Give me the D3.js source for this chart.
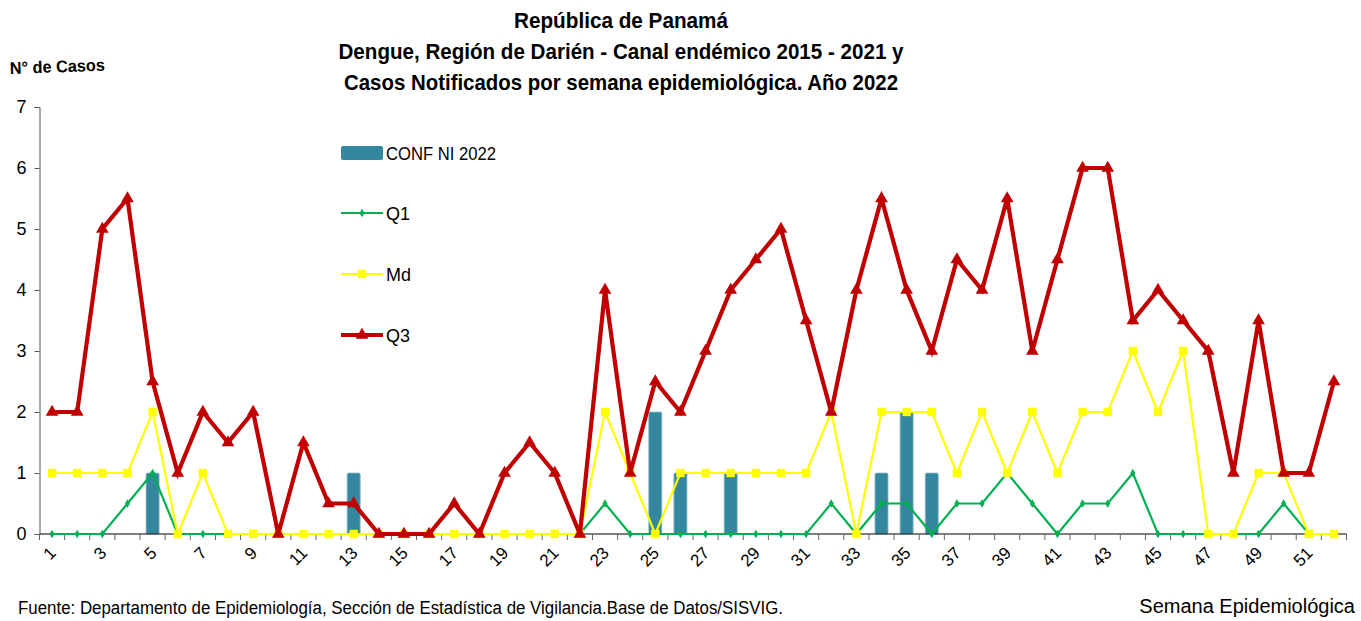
<!DOCTYPE html>
<html>
<head>
<meta charset="utf-8">
<script src="https://cdn.jsdelivr.net/npm/d3@7"></script>
<style>
  body { margin: 0; background: #fff; }
  text { font-family: "Liberation Sans", Arial, sans-serif; fill: #000; }
</style>
</head>
<body>
<svg id="svg" width="1361" height="621"></svg>
<script>
// Semanas epidemiológicas 1..52
let weeks = d3.range(1, 53);

// Casos confirmados 2022 (barras)
let conf = [0,0,0,0,1,0,0,0,0,0, 0,0,1,0,0,0,0,0,0,0, 0,0,0,0,2,1,0,1,0,0, 0,0,0,1,2,1,0,0,0,0, 0,0,0,0,0,0,0,0,0,0, 0,0];
// Canal endémico
let q1 = [0,0,0,0.5,1,0,0,0,0,0, 0,0,0,0,0,0,0,0,0,0, 0,0,0.5,0,0,0,0,0,0,0, 0,0.5,0,0.5,0.5,0,0.5,0.5,1,0.5, 0,0.5,0.5,1,0,0,0,0,0,0.5, 0,0];
let md = [1,1,1,1,2,0,1,0,0,0, 0,0,0,0,0,0,0,0,0,0, 0,0,2,1,0,1,1,1,1,1, 1,2,0,2,2,2,1,2,1,2, 1,2,2,3,2,3,0,0,1,1, 0,0];
let q3 = [2,2,5,5.5,2.5,1,2,1.5,2,0, 1.5,0.5,0.5,0,0,0,0.5,0,1,1.5, 1,0,4,1,2.5,2,3,4,4.5,5, 3.5,2,4,5.5,4,3,4.5,4,5.5,3, 4.5,6,6,3.5,4,3.5,3,1,3.5,1, 1,2.5];

let yTicks = [0,1,2,3,4,5,6,7];
let titleLines = [
  "República de Panamá",
  "Dengue, Región de Darién - Canal endémico 2015 - 2021 y",
  "Casos Notificados por semana epidemiológica. Año 2022"
];
// widths of the title lines as they appear in the source (narrow font)
let titleWidths = [214, 565, 554];

let svg = d3.select("#svg");

let x = d3.scaleBand().domain(weeks).range([39.5, 1346.5]).padding(0);
let y = d3.scaleLinear().domain([0, 7]).range([534, 107]);
let cx = (w) => x(w) + x.bandwidth() / 2;

// title
svg.append("g")
  .selectAll("text")
  .data(titleLines)
  .enter()
  .append("text")
  .attr("x", 621)
  .attr("y", (d, i) => 28 + i * 31)
  .attr("text-anchor", "middle")
  .attr("textLength", (d, i) => titleWidths[i])
  .attr("lengthAdjust", "spacingAndGlyphs")
  .style("font-size", "22px")
  .style("font-weight", "bold")
  .text((d) => d);

svg.append("text")
  .attr("transform", "translate(10,74) rotate(-2)")
  .attr("textLength", 95)
  .attr("lengthAdjust", "spacingAndGlyphs")
  .style("font-size", "17px")
  .style("font-weight", "bold")
  .text("N° de Casos");

// y axis
let yAxis = svg.append("g")
  .attr("transform", "translate(39.5,0)")
  .call(d3.axisLeft(y).tickValues(yTicks).tickSize(5).tickPadding(8).tickFormat(d3.format("d")));
yAxis.selectAll("text").style("font-size", "18px");
yAxis.select(".domain").attr("stroke", "#555");
yAxis.selectAll(".tick line").attr("stroke", "#555");

// bars
let bw = x.bandwidth() * 0.52;
svg.append("g")
  .selectAll("rect")
  .data(weeks.filter((w, i) => conf[i] > 0))
  .enter()
  .append("rect")
  .attr("x", (w) => cx(w) - bw / 2)
  .attr("y", (w) => y(conf[w - 1]))
  .attr("width", bw)
  .attr("height", (w) => y(0) - y(conf[w - 1]))
  .attr("rx", 1.5)
  .style("fill", "#35869f")
  .style("stroke", "#8fbccb")
  .style("stroke-width", 0.8);

// x axis
let xAxis = svg.append("g").attr("transform", "translate(0,534)");
xAxis.append("line")
  .attr("x1", 39.5).attr("x2", 1346.5)
  .attr("stroke", "#000").attr("stroke-width", 1.2);
xAxis.selectAll(".tk")
  .data(d3.range(0, 53))
  .enter()
  .append("line")
  .attr("class", "tk")
  .attr("x1", (i) => 39.5 + i * x.step())
  .attr("x2", (i) => 39.5 + i * x.step())
  .attr("y1", 0).attr("y2", 6)
  .attr("stroke", "#666");
xAxis.selectAll(".lbl")
  .data(weeks.filter((w) => w % 2 === 1))
  .enter()
  .append("text")
  .attr("class", "lbl")
  .attr("text-anchor", "end")
  .attr("transform", (w) => `translate(${cx(w) + 5},${20}) rotate(-45)`)
  .style("font-size", "17px")
  .text((w) => w);

// lines
let series = [
  { name: "Q1", values: q1, color: "#00b050", width: 2.2, symbol: d3.symbolDiamond, size: 22 },
  { name: "Md", values: md, color: "#ffff00", width: 2.2, symbol: d3.symbolSquare, size: 70 },
  { name: "Q3", values: q3, color: "#c00000", width: 4.2, symbol: d3.symbolTriangle, size: 70 }
];
let line = d3.line().x((d) => cx(d.w)).y((d) => y(d.v));

series.forEach((s) => {
  let pts = weeks.map((w, i) => ({ w: w, v: s.values[i] }));
  let g = svg.append("g");
  g.append("path")
    .attr("d", line(pts))
    .style("fill", "none")
    .style("stroke", s.color)
    .style("stroke-width", s.width)
    .style("stroke-linejoin", "miter");
  g.selectAll("path.m")
    .data(pts)
    .enter()
    .append("path")
    .attr("class", "m")
    .attr("d", d3.symbol().type(s.symbol).size(s.size))
    .attr("transform", (d) => `translate(${cx(d.w)},${y(d.v)})`)
    .style("fill", s.color);
});

// legend
let legend = svg.append("g").attr("transform", "translate(341,0)");
legend.append("rect")
  .attr("x", 0).attr("y", 146).attr("width", 42).attr("height", 14)
  .attr("rx", 2)
  .style("fill", "#35869f");
legend.append("text")
  .attr("x", 45).attr("y", 160)
  .attr("textLength", 110)
  .attr("lengthAdjust", "spacingAndGlyphs")
  .style("font-size", "18px")
  .text("CONF NI 2022");
let ly = [213, 274, 335];
series.forEach((s, i) => {
  legend.append("line")
    .attr("x1", 0).attr("x2", 42)
    .attr("y1", ly[i]).attr("y2", ly[i])
    .style("stroke", s.color)
    .style("stroke-width", s.width);
  legend.append("path")
    .attr("d", d3.symbol().type(s.symbol).size(s.size))
    .attr("transform", `translate(21,${ly[i]})`)
    .style("fill", s.color);
  legend.append("text")
    .attr("x", 45).attr("y", ly[i] + 7)
    .style("font-size", "18px")
    .text(s.name);
});

// footer
svg.append("text")
  .attr("x", 18).attr("y", 614)
  .attr("textLength", 765)
  .attr("lengthAdjust", "spacingAndGlyphs")
  .style("font-size", "18px")
  .text("Fuente: Departamento de Epidemiología, Sección de Estadística de Vigilancia.Base de Datos/SISVIG.");
svg.append("text")
  .attr("x", 1355).attr("y", 613)
  .attr("text-anchor", "end")
  .style("font-size", "20px")
  .text("Semana Epidemiológica");
</script>
</body>
</html>
